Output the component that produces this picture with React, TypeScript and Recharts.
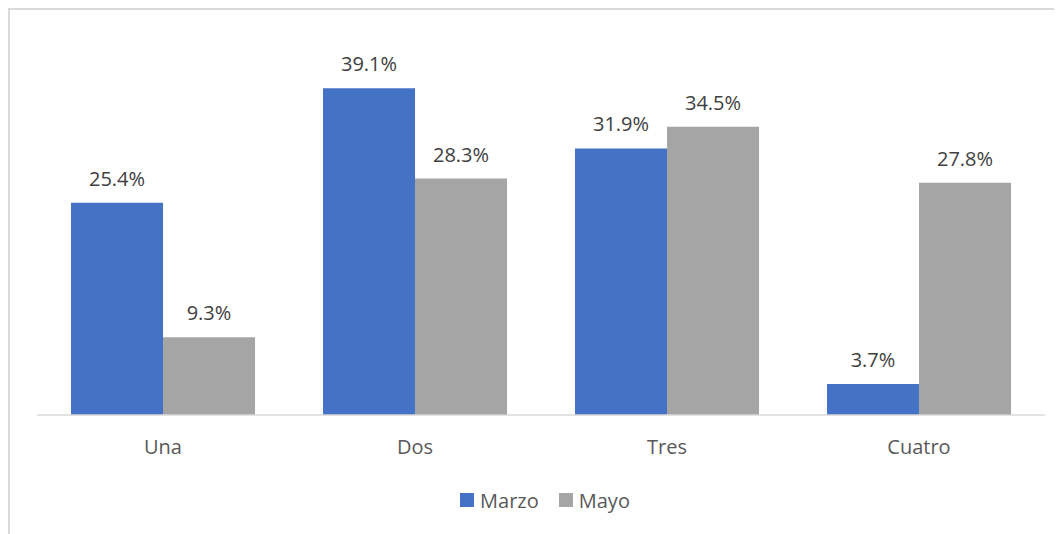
import React from "react";
import { BarChart, Bar, XAxis, YAxis, Legend, LabelList } from "recharts";

const categories = ["Una", "Dos", "Tres", "Cuatro"];
const marzo = [25.4, 39.1, 31.9, 3.7];
const mayo = [9.3, 28.3, 34.5, 27.8];
const seriesNames = ["Marzo", "Mayo"];
const seriesColors = ["#4472C4", "#A5A5A5"];

const data = categories.map((c, i) => ({ name: c, Marzo: marzo[i], Mayo: mayo[i] }));

const FONT = "'Open Sans', 'DejaVu Sans', sans-serif";

const fmt = (v: any) => `${Number(v).toFixed(1)}%`;

const LegendContent = () => (
  <div
    style={{
      height: 30,
      display: "flex",
      justifyContent: "center",
      alignItems: "center",
      paddingLeft: 8,
      fontFamily: FONT,
      fontSize: 20,
      color: "#595959",
    }}
  >
    {seriesNames.map((n, i) => (
      <div key={n} style={{ display: "flex", alignItems: "center", marginRight: i === 0 ? 20 : 0 }}>
        <span style={{ display: "inline-block", width: 14, height: 14, background: seriesColors[i], marginRight: 6 }} />
        <span>{n}</span>
      </div>
    ))}
  </div>
);

export default function App() {
  return (
    <div
      style={{
        width: 1054,
        height: 526,
        borderLeft: "2px solid #d9d9d9",
        borderTop: "2px solid #d9d9d9",
        overflow: "hidden",
        background: "#fff",
      }}
    >
      <BarChart
        width={1052}
        height={524}
        data={data}
        margin={{ top: 29, right: 17, left: 27, bottom: 19 }}
        barCategoryGap="13.5%"
        barGap={0}
      >
        <XAxis
          dataKey="name"
          height={70}
          tickLine={false}
          tickSize={0}
          tickMargin={25}
          axisLine={{ stroke: "#d9d9d9", strokeWidth: 1.5 }}
          tick={{ fill: "#595959", fontSize: 20, fontFamily: FONT }}
        />
        <YAxis hide domain={[0, 45]} />
        <Legend verticalAlign="bottom" content={<LegendContent />} />
        {seriesNames.map((n, i) => (
          <Bar key={n} dataKey={n} fill={seriesColors[i]} isAnimationActive={false}>
            <LabelList
              dataKey={n}
              position="top"
              offset={17}
              formatter={fmt}
              style={{ fill: "#404040", fontSize: 20, fontFamily: FONT }}
            />
          </Bar>
        ))}
      </BarChart>
    </div>
  );
}
